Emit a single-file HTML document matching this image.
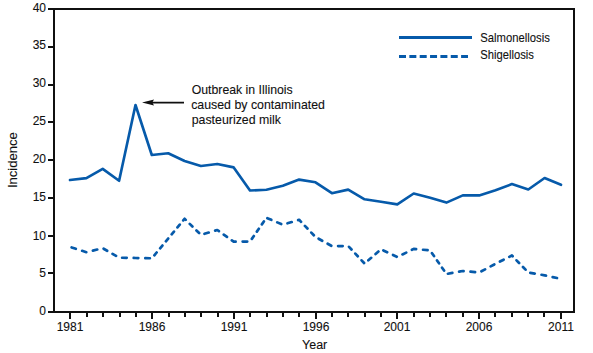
<!DOCTYPE html>
<html><head><meta charset="utf-8"><style>
html,body{margin:0;padding:0;background:#fff;}
svg{display:block;}
text{font-family:"Liberation Sans",sans-serif;fill:#101010;stroke:#101010;stroke-width:0.1px;}
</style></head><body>
<svg width="593" height="353" viewBox="0 0 593 353">
<rect x="0" y="0" width="593" height="353" fill="#fff"/>
<g stroke="#101010" stroke-width="2" fill="none">
<rect x="54" y="9" width="520" height="303"/>
<line x1="48" y1="312" x2="54" y2="312"/><line x1="48" y1="273" x2="54" y2="273"/><line x1="48" y1="236" x2="54" y2="236"/><line x1="48" y1="198" x2="54" y2="198"/><line x1="48" y1="160" x2="54" y2="160"/><line x1="48" y1="122" x2="54" y2="122"/><line x1="48" y1="85" x2="54" y2="85"/><line x1="48" y1="47" x2="54" y2="47"/><line x1="48" y1="9" x2="54" y2="9"/>
<line x1="70" y1="312" x2="70" y2="319"/><line x1="87" y1="312" x2="87" y2="317"/><line x1="103" y1="312" x2="103" y2="317"/><line x1="120" y1="312" x2="120" y2="317"/><line x1="136" y1="312" x2="136" y2="317"/><line x1="152" y1="312" x2="152" y2="319"/><line x1="169" y1="312" x2="169" y2="317"/><line x1="185" y1="312" x2="185" y2="317"/><line x1="201" y1="312" x2="201" y2="317"/><line x1="218" y1="312" x2="218" y2="317"/><line x1="234" y1="312" x2="234" y2="319"/><line x1="250" y1="312" x2="250" y2="317"/><line x1="267" y1="312" x2="267" y2="317"/><line x1="283" y1="312" x2="283" y2="317"/><line x1="299" y1="312" x2="299" y2="317"/><line x1="316" y1="312" x2="316" y2="319"/><line x1="332" y1="312" x2="332" y2="317"/><line x1="348" y1="312" x2="348" y2="317"/><line x1="365" y1="312" x2="365" y2="317"/><line x1="381" y1="312" x2="381" y2="317"/><line x1="397" y1="312" x2="397" y2="319"/><line x1="414" y1="312" x2="414" y2="317"/><line x1="430" y1="312" x2="430" y2="317"/><line x1="446" y1="312" x2="446" y2="317"/><line x1="463" y1="312" x2="463" y2="317"/><line x1="479" y1="312" x2="479" y2="319"/><line x1="495" y1="312" x2="495" y2="317"/><line x1="512" y1="312" x2="512" y2="317"/><line x1="528" y1="312" x2="528" y2="317"/><line x1="544" y1="312" x2="544" y2="317"/><line x1="561" y1="312" x2="561" y2="319"/>
</g>
<g font-size="12"><text x="46" y="314.8" text-anchor="end">0</text><text x="46" y="276.9" text-anchor="end">5</text><text x="46" y="240" text-anchor="end">10</text><text x="46" y="200.9" text-anchor="end">15</text><text x="46" y="162.9" text-anchor="end">20</text><text x="46" y="124.9" text-anchor="end">25</text><text x="46" y="87.1" text-anchor="end">30</text><text x="46" y="49.3" text-anchor="end">35</text><text x="46" y="11.9" text-anchor="end">40</text><text x="70" y="331" text-anchor="middle">1981</text><text x="152" y="331" text-anchor="middle">1986</text><text x="234" y="331" text-anchor="middle">1991</text><text x="316" y="331" text-anchor="middle">1996</text><text x="397" y="331" text-anchor="middle">2001</text><text x="479" y="331" text-anchor="middle">2006</text><text x="561" y="331" text-anchor="middle">2011</text></g>
<text x="302" y="348.5" font-size="12.5">Year</text>
<text transform="translate(17,188) rotate(-90)" font-size="13">Incidence</text>
<polyline points="70.0,180 86.4,178.1 102.7,168.9 119.1,180.8 135.5,105 151.8,155 168.2,153.3 184.6,161 200.9,166 217.3,164 233.7,167.4 250.0,190.5 266.4,189.7 282.8,185.7 299.1,179.6 315.5,182.3 331.9,193.2 348.2,189.6 364.6,199.3 381.0,201.8 397.3,204.4 413.7,193.5 430.1,197.7 446.4,202.6 462.8,195.4 479.2,195.4 495.5,190.2 511.9,184.1 528.3,189.5 544.6,178 561.0,184.8" fill="none" stroke="#065aaa" stroke-width="2.65" stroke-linejoin="round" stroke-linecap="round"/>
<path d="M71.63 247.43L75.80 248.78M82.14 250.83L86.30 252.18M92.90 250.60L97.23 249.54M103.62 248.72L107.15 250.77M112.52 253.88L116.05 255.93M122.11 257.76L126.71 257.84M133.69 257.97L135.47 258.00L138.29 258.05M145.28 258.18L149.88 258.26M154.34 255.27L156.63 252.50M160.11 248.29L162.40 245.52M165.88 241.31L168.17 238.54M171.66 234.33L173.96 231.56M177.45 227.36L179.75 224.59M183.25 220.39L184.57 218.80L185.70 219.91M189.75 223.87L192.41 226.47M196.46 230.43L199.12 233.03M204.50 233.76L208.73 232.51M215.17 230.62L217.30 230.00L218.90 231.14M223.77 234.62L226.97 236.91M231.84 240.40L233.67 241.70L235.65 241.68M242.64 241.59L247.24 241.53M251.85 238.87L253.84 235.99M256.86 231.62L258.85 228.74M261.87 224.36L263.86 221.48M267.35 218.20L271.28 219.86M277.26 222.38L281.19 224.04M287.49 223.29L291.72 222.02M298.14 220.10L299.13 219.80L301.07 221.84M304.92 225.89L307.46 228.55M311.31 232.60L313.85 235.27M318.62 238.73L322.21 240.73M327.67 243.77L331.26 245.76M338.08 246.06L342.68 246.03M349.01 246.84L351.51 249.52M355.30 253.60L357.79 256.28M361.59 260.36L364.08 263.04M368.35 260.32L371.22 257.82M375.57 254.02L378.43 251.52M383.38 250.43L387.18 252.23M392.97 254.95L396.78 256.74M402.48 254.45L406.23 252.60M411.92 249.78L413.70 248.90L416.09 249.12M423.02 249.75L427.58 250.17M432.01 253.21L434.01 256.08M437.04 260.46L439.04 263.34M442.07 267.71L444.07 270.59M447.92 273.73L452.37 272.91M459.12 271.67L462.80 271.00L463.59 271.07M470.52 271.71L475.08 272.13M481.45 271.29L485.10 269.35M490.65 266.40L494.30 264.46M499.93 261.57L503.64 259.69M509.29 256.83L511.90 255.50L512.66 256.29M516.54 260.32L519.10 262.98M522.98 267.01L525.54 269.67M530.29 272.85L534.76 273.61M541.54 274.77L544.63 275.30L545.99 275.60M552.65 277.06L557.03 278.03" fill="none" stroke="#065aaa" stroke-width="2.7" stroke-linejoin="round" stroke-linecap="round"/>
<line x1="399" y1="37.5" x2="472" y2="37.5" stroke="#065aaa" stroke-width="3"/>
<line x1="399" y1="56.5" x2="468" y2="56.5" stroke="#065aaa" stroke-width="3" stroke-dasharray="7 3.35"/>
<g font-size="12.2">
<text x="480.3" y="41.8" textLength="69.6" lengthAdjust="spacingAndGlyphs">Salmonellosis</text>
<text x="480.3" y="59.1" textLength="53.6" lengthAdjust="spacingAndGlyphs">Shigellosis</text>
</g>
<line x1="150" y1="102.6" x2="184" y2="102.6" stroke="#101010" stroke-width="1.9"/>
<polygon points="142,102.6 154,99.6 152.3,102.6 154,105.6" fill="#101010"/>
<g font-size="12.2">
<text x="191.7" y="93.6" textLength="101" lengthAdjust="spacingAndGlyphs">Outbreak in Illinois</text>
<text x="191.2" y="109" textLength="133.8" lengthAdjust="spacingAndGlyphs">caused by contaminated</text>
<text x="191.7" y="124.3" textLength="89.3" lengthAdjust="spacingAndGlyphs">pasteurized milk</text>
</g>
</svg>
</body></html>
